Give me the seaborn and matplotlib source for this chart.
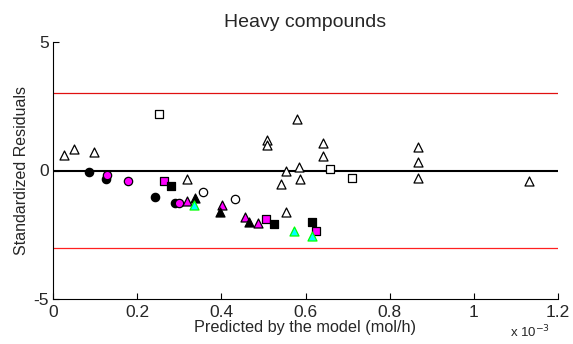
import matplotlib
matplotlib.use("Agg")
import matplotlib.pyplot as plt
import seaborn as sns
import pandas as pd

sns.set_theme(style="white")
plt.rcParams['font.family'] = ['Liberation Sans', 'DejaVu Sans']

# x in units of 1e-3 mol/h
open_tri_x = [0.027, 0.050, 0.098, 0.318, 0.553, 0.580, 0.508, 0.508, 0.642, 0.642, 0.585, 0.554, 0.541, 0.586, 0.868, 0.868, 0.868, 1.132]
open_tri_y = [0.61, 0.84, 0.71, -0.32, -1.60, 2.01, 1.17, 1.00, 1.06, 0.56, 0.14, -0.03, -0.52, -0.35, 0.91, 0.32, -0.28, -0.39]
open_sq_x = [0.252, 0.658, 0.711]
open_sq_y = [2.19, 0.07, -0.28]
open_circ_x = [0.356, 0.432]
open_circ_y = [-0.84, -1.10]
blk_circ_x = [0.086, 0.126, 0.243, 0.290]
blk_circ_y = [-0.07, -0.35, -1.02, -1.26]
mag_circ_x = [0.128, 0.178, 0.300]
mag_circ_y = [-0.17, -0.39, -1.26]
mag_sq_x = [0.263, 0.506, 0.626]
mag_sq_y = [-0.39, -1.88, -2.35]
blk_sq_x = [0.280, 0.526, 0.616]
blk_sq_y = [-0.62, -2.07, -2.02]
mag_tri_x = [0.318, 0.402, 0.456, 0.486]
mag_tri_y = [-1.19, -1.33, -1.82, -2.04]
blk_tri_x = [0.337, 0.397, 0.466]
blk_tri_y = [-1.08, -1.63, -2.01]
cyan_tri_x = [0.336, 0.572, 0.615]
cyan_tri_y = [-1.36, -2.37, -2.56]

x_ticks = [0, 0.2, 0.4, 0.6, 0.8, 1.0, 1.2]
x_tick_labels = ['0', '0.2', '0.4', '0.6', '0.8', '1', '1.2']
y_ticks = [-5, 0, 5]
limit = 3

groups = [
    (open_tri_x, open_tri_y, '^', 'white', 'black', 42),
    (open_sq_x, open_sq_y, 's', 'white', 'black', 36),
    (open_circ_x, open_circ_y, 'o', 'white', 'black', 36),
    (blk_circ_x, blk_circ_y, 'o', 'black', 'black', 36),
    (mag_circ_x, mag_circ_y, 'o', '#ff00ff', 'black', 36),
    (mag_sq_x, mag_sq_y, 's', '#ff00ff', 'black', 36),
    (blk_sq_x, blk_sq_y, 's', 'black', 'black', 36),
    (mag_tri_x, mag_tri_y, '^', '#ff00ff', 'black', 42),
    (blk_tri_x, blk_tri_y, '^', 'black', 'black', 42),
    (cyan_tri_x, cyan_tri_y, '^', '#00ffff', '#00ff00', 42),
]

fig = plt.figure(figsize=(5.73, 3.44), dpi=100)
ax = fig.add_axes([53/573, 1-299/344, (558-53)/573, (299-42)/344])

ax.axhline(0, color='black', lw=1.5, zorder=1)
ax.axhline(limit, color='#e01010', lw=0.9, zorder=1)
ax.axhline(-limit, color='#ff2020', lw=0.9, zorder=1)

for gx, gy, m, fc, ec, s in groups:
    df = pd.DataFrame({'x': gx, 'y': gy})
    sns.scatterplot(data=df, x='x', y='y', marker=m, color=fc, edgecolor=ec,
                    linewidth=0.9, s=s, ax=ax, zorder=3, legend=False)

ax.set_xlim(0, 1.2)
ax.set_ylim(-5, 5)
ax.set_xticks(x_ticks)
ax.set_xticklabels(x_tick_labels, fontsize=12.5)
ax.set_yticks(y_ticks)
ax.set_yticklabels([str(v) for v in y_ticks], fontsize=12.5)
ax.tick_params(direction='in', length=4, width=0.8, color='black',
               bottom=True, left=True, top=False, right=False)
ax.tick_params(axis='x', pad=4)
ax.tick_params(axis='y', pad=3)
for side in ['top', 'right']:
    ax.spines[side].set_visible(False)
for side in ['left', 'bottom']:
    ax.spines[side].set_color('black')
    ax.spines[side].set_linewidth(0.8)

ax.set_xlabel('Predicted by the model (mol/h)', fontsize=11.7, labelpad=0)
ax.set_ylabel('Standardized Residuals', fontsize=11.5, labelpad=3)
ax.set_title('Heavy compounds', fontsize=14, pad=11)
fig.text(530/573, 1-340/344, r'x 10$^{-3}$', fontsize=9.5, ha='center', va='bottom')

fig.savefig('out.png', dpi=100)
